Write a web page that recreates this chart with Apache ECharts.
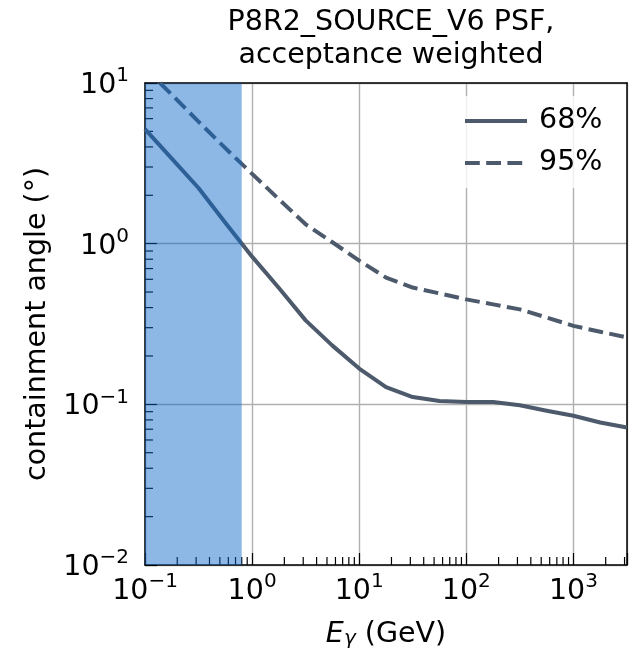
<!DOCTYPE html>
<html>
<head>
<meta charset="utf-8">
<script src="https://cdn.jsdelivr.net/npm/echarts@6/dist/echarts.min.js"></script>
<style>
  html, body { margin: 0; padding: 0; background: #ffffff; }
  #chart { width: 634px; height: 654px; }
</style>
</head>
<body>
<div id="chart"></div>
<script>
// PSF containment angles vs photon energy (log-spaced energies, GeV)
const energyGeV = [0.1, 0.178, 0.316, 0.562, 1, 1.78, 3.16, 5.62, 10, 17.8, 31.6, 56.2, 100, 178, 316, 562, 1000, 1778, 3162];
const psf68 = [5.16, 3.38, 2.22, 1.35, 0.83, 0.53, 0.333, 0.232, 0.167, 0.128, 0.111, 0.105, 0.1035, 0.1035, 0.0986, 0.0912, 0.0849, 0.0771, 0.0717];
const psf95 = [12.4, 8.45, 5.75, 3.93, 2.72, 1.89, 1.32, 1.02, 0.784, 0.615, 0.533, 0.490, 0.450, 0.419, 0.390, 0.347, 0.308, 0.283, 0.261];
const seriesNames = ['68%', '95%'];
// low-energy band highlighted in blue (GeV)
const shadedBand = [0.1, 0.8];
// decade exponents that carry tick labels
const xTickExponents = [-1, 0, 1, 2, 3];
const yTickExponents = [-2, -1, 0, 1];
const titleText = 'P8R2_SOURCE_V6 PSF,\nacceptance weighted';
const xAxisTitle = '{e|E}{g|\u03b3}{t| (GeV)}';
const yAxisTitle = 'containment angle (\u00b0)';

const FONT = 'DejaVu Sans';
const FS = 28.5;
const SUP = 20;
const LINE_COLOR = '#4d5a6c';
const X_MIN = 0.1, X_MAX = Math.pow(10, 3.5);
const Y_MIN = 0.01, Y_MAX = 10;

function minorTicks(lo, hi) {
  const out = [];
  for (let e = Math.floor(Math.log10(lo)); e <= Math.ceil(Math.log10(hi)); e++) {
    for (let m = 2; m <= 9; m++) {
      const v = m * Math.pow(10, e);
      if (v > lo * 1.0001 && v < hi * 0.9999) out.push(v);
    }
  }
  return out;
}

function powerLabel(exps) {
  return function (v) {
    const e = Math.log10(v);
    const r = Math.round(e);
    if (Math.abs(e - r) > 1e-6 || exps.indexOf(r) < 0) return '';
    return '{b|10}{s|' + (r < 0 ? '\u2212' + (-r) : String(r)) + '}';
  };
}

const tickRich = {
  b: { fontFamily: FONT, fontSize: FS, lineHeight: 34, verticalAlign: 'bottom', color: '#000' },
  s: { fontFamily: FONT, fontSize: SUP, lineHeight: 20, verticalAlign: 'top', color: '#000' }
};

function xMinorTick(params, api) {
  const cs = params.coordSys;
  const x = api.coord([api.value(0), Y_MIN])[0];
  const yb = cs.y + cs.height;
  return { type: 'line', shape: { x1: x, y1: yb, x2: x, y2: yb - 8 }, style: { stroke: '#000', lineWidth: 1.2 } };
}
function yMinorTick(params, api) {
  const cs = params.coordSys;
  const y = api.coord([X_MIN, api.value(1)])[1];
  return { type: 'line', shape: { x1: cs.x, y1: y, x2: cs.x + 8, y2: y }, style: { stroke: '#000', lineWidth: 1.2 } };
}
function bandRect(params, api) {
  const cs = params.coordSys;
  const x0 = api.coord([api.value(0), Y_MIN])[0];
  const x1 = api.coord([api.value(1), Y_MIN])[0];
  return { type: 'rect', shape: { x: x0, y: cs.y + 0.5, width: x1 - x0, height: cs.height - 0.5 }, style: { fill: 'rgba(12,104,202,0.47)' } };
}

const chart = echarts.init(document.getElementById('chart'), null, { renderer: 'canvas' });

const frameAxis = {
  type: 'log', logBase: 10,
  axisLine: { show: true, lineStyle: { color: '#000', width: 1.5 } },
  axisTick: { show: false }, axisLabel: { show: false }, splitLine: { show: false }
};

chart.setOption({
  animation: false,
  backgroundColor: '#ffffff',
  title: {
    text: titleText,
    left: 386, top: 1, textAlign: 'center',
    textStyle: { fontFamily: FONT, fontSize: FS, fontWeight: 'normal', color: '#000', lineHeight: 33 }
  },
  grid: { left: 145, right: 7, top: 83, bottom: 89, containLabel: false },
  legend: {
    data: seriesNames,
    orient: 'vertical',
    left: 451, top: 96,
    itemWidth: 62, itemHeight: 14, itemGap: 12,
    padding: [10, 14, 10, 12],
    backgroundColor: 'rgba(255,255,255,0.8)',
    textStyle: { fontFamily: FONT, fontSize: FS, lineHeight: 30, color: '#000', padding: [0, 0, 0, 7] },
    itemStyle: { opacity: 0 },
    lineStyle: { width: 4 }
  },
  xAxis: [
    {
      type: 'log', logBase: 10, min: X_MIN, max: X_MAX,
      name: xAxisTitle, nameLocation: 'middle', nameGap: 50,
      nameTextStyle: {
        color: '#000',
        rich: {
          e: { fontFamily: FONT, fontStyle: 'italic', fontSize: FS, lineHeight: 34, verticalAlign: 'bottom', color: '#000' },
          g: { fontFamily: FONT, fontStyle: 'italic', fontSize: SUP, lineHeight: 22, verticalAlign: 'bottom', color: '#000' },
          t: { fontFamily: FONT, fontSize: FS, lineHeight: 34, verticalAlign: 'bottom', color: '#000' }
        }
      },
      axisLine: { show: true, lineStyle: { color: '#000', width: 1.5 } },
      axisTick: { show: true, inside: true, length: 12, lineStyle: { color: '#000', width: 1.2 } },
      axisLabel: { formatter: powerLabel(xTickExponents), rich: tickRich, margin: 7 },
      splitLine: { show: true, lineStyle: { color: '#b0b0b0', width: 1.4 } }
    },
    Object.assign({ position: 'top', min: X_MIN, max: X_MAX }, frameAxis)
  ],
  yAxis: [
    {
      type: 'log', logBase: 10, min: Y_MIN, max: Y_MAX,
      name: yAxisTitle, nameLocation: 'middle', nameGap: 85,
      nameTextStyle: { fontFamily: FONT, fontSize: FS, color: '#000' },
      axisLine: { show: true, lineStyle: { color: '#000', width: 1.5 } },
      axisTick: { show: true, inside: true, length: 12, lineStyle: { color: '#000', width: 1.2 } },
      axisLabel: { formatter: powerLabel(yTickExponents), rich: tickRich, margin: 16 },
      splitLine: { show: true, lineStyle: { color: '#b0b0b0', width: 1.4 } }
    },
    Object.assign({ position: 'right', min: Y_MIN, max: Y_MAX }, frameAxis)
  ],
  series: [
    {
      name: seriesNames[0], type: 'line', symbol: 'none', z: 2,
      data: energyGeV.map((e, i) => [e, psf68[i]]),
      lineStyle: { color: LINE_COLOR, width: 4, cap: 'butt', join: 'round' },
      itemStyle: { color: LINE_COLOR }
    },
    {
      name: seriesNames[1], type: 'line', symbol: 'none', z: 2,
      data: energyGeV.map((e, i) => [e, psf95[i]]),
      lineStyle: { color: LINE_COLOR, width: 4, type: [14.8, 6.4], cap: 'butt', join: 'round' },
      itemStyle: { color: LINE_COLOR }
    },
    {
      type: 'custom', z: 1, silent: true, renderItem: xMinorTick,
      data: minorTicks(X_MIN, X_MAX).map(v => [v, 1])
    },
    {
      type: 'custom', z: 1, silent: true, renderItem: yMinorTick,
      data: minorTicks(Y_MIN, Y_MAX).map(v => [1, v])
    },
    {
      type: 'custom', z: 5, silent: true, renderItem: bandRect,
      data: [[shadedBand[0], shadedBand[1]]]
    }
  ]
});
</script>
</body>
</html>
